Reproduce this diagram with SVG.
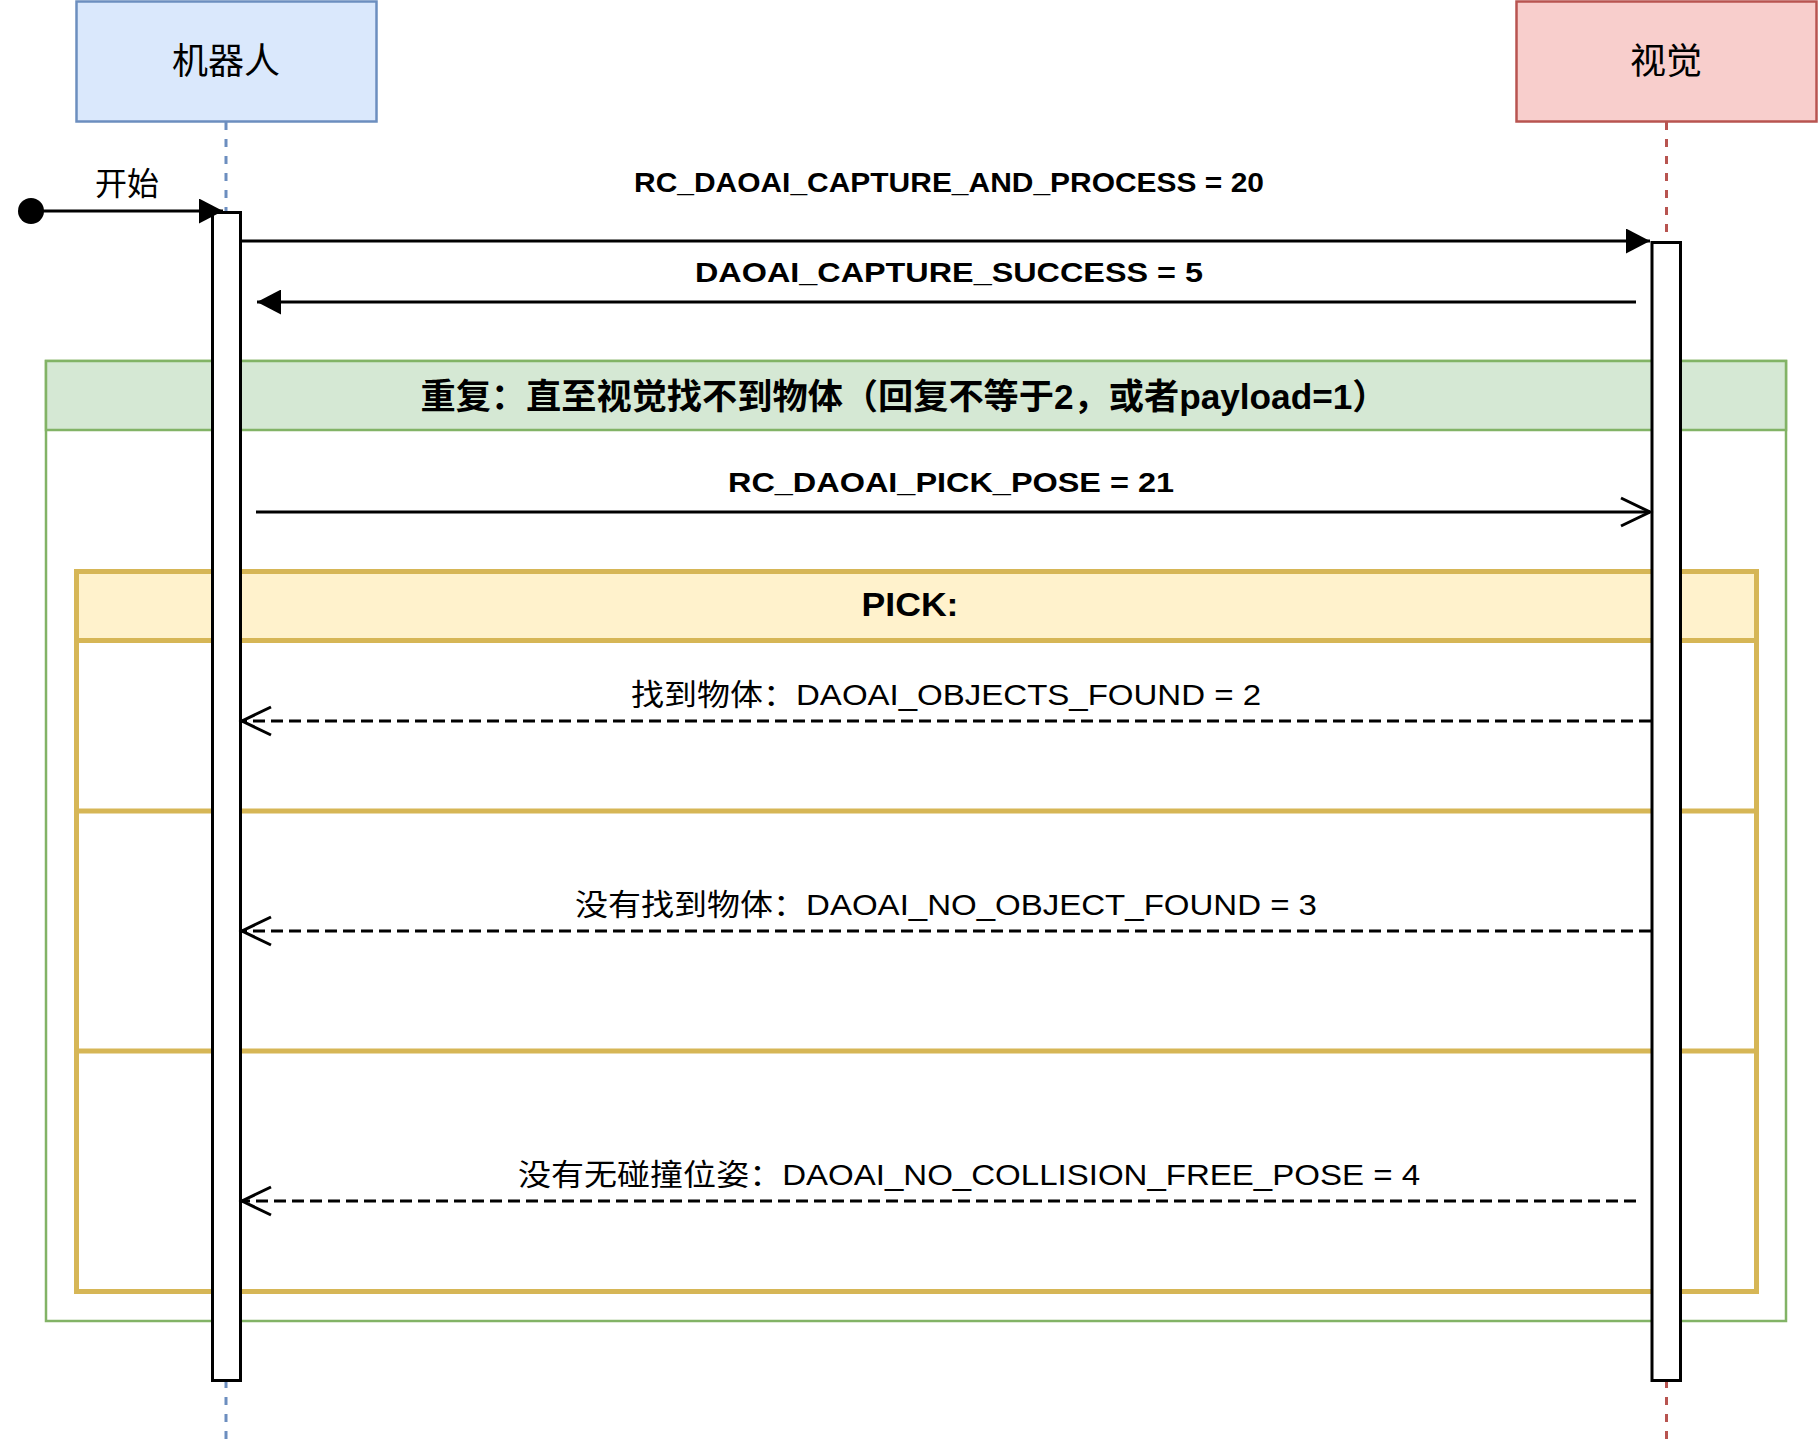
<svg xmlns="http://www.w3.org/2000/svg" width="1818" height="1446" viewBox="0 0 1818 1446">
<style>
  text{font-family:"Liberation Sans","Noto Sans CJK SC",sans-serif;fill:#000;text-anchor:middle}
  .b{font-weight:bold}
  .msg{stroke:#000;stroke-width:3;fill:none}
  .dash{stroke-dasharray:12 6}
  .bar{fill:#fff;stroke:#000;stroke-width:3}
  .life{stroke-width:3;stroke-dasharray:8 9;fill:none}
</style>
<defs>
  <marker id="block" viewBox="0 0 24 25" refX="24" refY="12.5" markerWidth="24" markerHeight="25" orient="auto" markerUnits="userSpaceOnUse">
    <path d="M0,0 L24,12.5 L0,25 Z" fill="#000" stroke="none"/>
  </marker>
  <marker id="open" viewBox="0 0 30 30" refX="29" refY="15" markerWidth="30" markerHeight="30" orient="auto" markerUnits="userSpaceOnUse" overflow="visible">
    <path d="M0,1 L29,15 L0,29" fill="none" stroke="#000" stroke-width="3" stroke-dasharray="none"/>
  </marker>
</defs>
<rect width="1818" height="1446" fill="#fff"/>

<g id="loop-frame">
  <rect x="46" y="361" width="1740" height="960" fill="none" stroke="#82b366" stroke-width="2.5"/>
  <rect x="46" y="361" width="1740" height="69" fill="#d5e8d4" stroke="#82b366" stroke-width="2.5"/>
  <text class="b" x="904" y="409" font-size="35" textLength="967" lengthAdjust="spacingAndGlyphs">重复：直至视觉找不到物体（回复不等于2，或者payload=1）</text>
</g>

<g id="pick-frame">
  <rect x="76.5" y="571.5" width="1680" height="720" fill="none" stroke="#d6b656" stroke-width="5"/>
  <rect x="76.5" y="571.5" width="1680" height="69" fill="#fff2cc" stroke="#d6b656" stroke-width="5"/>
  <line x1="76.5" y1="811" x2="1756.5" y2="811" stroke="#d6b656" stroke-width="5"/>
  <line x1="76.5" y1="1051" x2="1756.5" y2="1051" stroke="#d6b656" stroke-width="5"/>
  <text class="b" x="910" y="616" font-size="33" textLength="97" lengthAdjust="spacingAndGlyphs">PICK:</text>
</g>

<g id="robot">
  <line class="life" x1="226" y1="122" x2="226" y2="1446" stroke="#6c8ebf"/>
  <rect x="76.5" y="1.5" width="300" height="120" fill="#dae8fc" stroke="#6c8ebf" stroke-width="2.5"/>
  <text x="226" y="74" font-size="36">机器人</text>
  <rect class="bar" x="212.5" y="212.5" width="28" height="1168"/>
</g>

<g id="vision">
  <line class="life" x1="1666.5" y1="122" x2="1666.5" y2="1446" stroke="#b85450"/>
  <rect x="1516.5" y="1.5" width="300" height="120" fill="#f8cecc" stroke="#b85450" stroke-width="2.5"/>
  <text x="1666" y="74" font-size="36">视觉</text>
  <rect class="bar" x="1652" y="242.5" width="28.5" height="1138"/>
</g>

<g id="connectors">
  <circle cx="31" cy="211" r="13" fill="#000"/>
  <line class="msg" x1="40" y1="211" x2="223" y2="211" marker-end="url(#block)"/>
  <text x="127" y="195" font-size="32">开始</text>

  <line class="msg" x1="242" y1="241" x2="1650" y2="241" marker-end="url(#block)"/>
  <text class="b" x="949" y="192" font-size="28" textLength="630" lengthAdjust="spacingAndGlyphs">RC_DAOAI_CAPTURE_AND_PROCESS = 20</text>

  <line class="msg" x1="1636" y1="302" x2="257" y2="302" marker-end="url(#block)"/>
  <text class="b" x="949" y="282" font-size="28" textLength="508" lengthAdjust="spacingAndGlyphs">DAOAI_CAPTURE_SUCCESS = 5</text>

  <line class="msg" x1="256" y1="512" x2="1650" y2="512" marker-end="url(#open)"/>
  <text class="b" x="951" y="492" font-size="28" textLength="446" lengthAdjust="spacingAndGlyphs">RC_DAOAI_PICK_POSE = 21</text>

  <line class="msg dash" x1="1651" y1="721" x2="242" y2="721" marker-end="url(#open)"/>
  <text x="946" y="705" font-size="30" textLength="630" lengthAdjust="spacingAndGlyphs">找到物体：DAOAI_OBJECTS_FOUND = 2</text>

  <line class="msg dash" x1="1651" y1="931" x2="242" y2="931" marker-end="url(#open)"/>
  <text x="946" y="915" font-size="30" textLength="742" lengthAdjust="spacingAndGlyphs">没有找到物体：DAOAI_NO_OBJECT_FOUND = 3</text>

  <line class="msg dash" x1="1636" y1="1201" x2="242" y2="1201" marker-end="url(#open)"/>
  <text x="969" y="1185" font-size="30" textLength="902" lengthAdjust="spacingAndGlyphs">没有无碰撞位姿：DAOAI_NO_COLLISION_FREE_POSE = 4</text>
</g>
</svg>
